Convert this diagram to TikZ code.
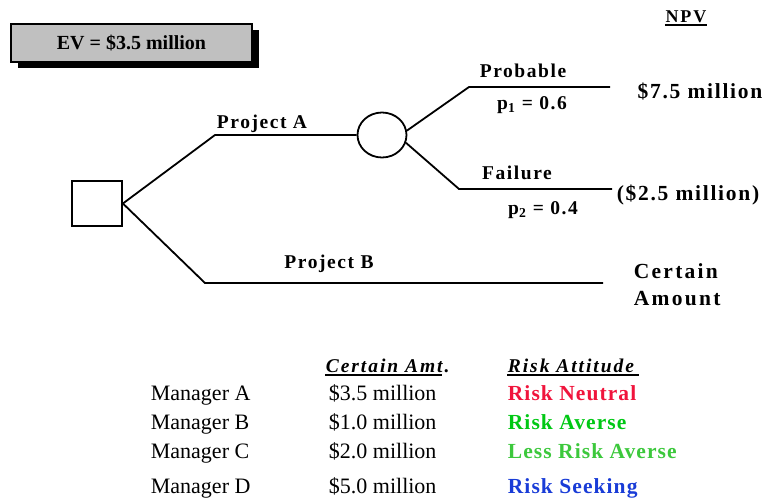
\documentclass[tikz,border=0pt]{standalone}
\usepackage{fontspec}
\setmainfont{Liberation Serif}
\usetikzlibrary{shadows, shapes.geometric}

\definecolor{neutral}{RGB}{240,20,60}
\definecolor{averse}{RGB}{0,200,20}
\definecolor{lessaverse}{RGB}{60,200,60}
\definecolor{seeking}{RGB}{25,60,215}
\definecolor{evgray}{RGB}{192,192,192}

\newcommand{\sz}[1]{\fontsize{#1}{#1}\selectfont}
\newcommand{\trk}[1]{\addfontfeatures{LetterSpace=#1}}

\begin{document}
\begin{tikzpicture}[x=1pt, y=-1pt, line width=1.8pt,
  dec/.style = {draw, rectangle, minimum width=50pt, minimum height=45pt},
  chance/.style = {draw, ellipse, minimum width=49pt, minimum height=45pt},
  lbl/.style = {inner sep=0pt, anchor=base, font=\sz{19.5}\bfseries\trk{8}},
  big/.style = {inner sep=0pt, anchor=base, font=\sz{21.5}\bfseries\trk{8}},
  hdr/.style = {inner sep=0pt, anchor=base west, font=\sz{19.5}\bfseries\itshape\trk{10}},
  row/.style = {inner sep=0pt, anchor=base west, font=\sz{22}},
  att/.style = {inner sep=0pt, anchor=base west, font=\sz{21.5}\bfseries\trk{5}},
  uline/.style = {line width=2pt}]
\useasboundingbox (0,0) rectangle (768,498);

% expected value box
\node[draw, fill=evgray, line width=1.4pt, minimum width=241pt, minimum height=38pt,
  drop shadow={shadow xshift=7pt, shadow yshift=-6pt, fill=black, opacity=1},
  font=\sz{20}\bfseries] (ev) at (131.5,43) {EV = \$3.5 million\hspace{8pt}};

\node[inner sep=0pt, anchor=base, font=\sz{18}\bfseries\trk{10}] (npv) at (686,22) {NPV};
\draw[uline] ([yshift=-3pt]npv.base west) -- ([yshift=-3pt]npv.base east);

% tree
\node[dec] (d) at (97,203.5) {};
\node[chance] (c) at (382,135) {};

\coordinate (a) at (215,135);
\coordinate (b) at (205,283);
\coordinate (bend) at (603,283);
\coordinate (p) at (469,87);
\coordinate (pend) at (610,87);
\coordinate (f) at (459,189);
\coordinate (fend) at (612,189);

\draw (d.east) -- (a) -- (c.west);
\draw (d.east) -- (b) -- (bend);
\draw (c.10) -- (p) -- (pend);
\draw (c.-18) -- (f) -- (fend);

\node[lbl] (pa) at (262,128) {Project A};
\node[lbl] (pb) at (329,268) {Project B};
\node[lbl] (pr) at (523,77) {Probable};
\node[lbl] (p1) at (532,109) {p\textsubscript{1} = 0.6};
\node[lbl] (fa) at (517,179) {Failure};
\node[lbl] (p2) at (543,214) {p\textsubscript{2} = 0.4};

\node[big] (v1) at (700,98) {\$7.5 million};
\node[big] (v2) at (688,200) {(\$2.5 million)};
\node[big, anchor=base west, font=\sz{21.5}\bfseries\trk{10.5}] (ca) at (633,278) {Certain};
\node[big, anchor=base west, font=\sz{21.5}\bfseries\trk{10.5}] (am) at (633,305) {Amount};

% managers
\node[hdr] (h1) at (325,372) {Certain Amt.};
\node[hdr] (h2) at (507,372) {Risk Attitude};
\draw[uline] ([yshift=-3pt]h1.base west) -- ([yshift=-3pt, xshift=-8pt]h1.base east);
\draw[uline] ([yshift=-3pt]h2.base west) -- ([yshift=-3pt, xshift=4pt]h2.base east);

\node[row] (ma) at (150,400) {Manager A};
\node[row] (mb) at (150,429) {Manager B};
\node[row] (mc) at (150,458) {Manager C};
\node[row] (md) at (150,493) {Manager D};

\node[row] (ca1) at (328,400) {\$3.5 million};
\node[row] (ca2) at (328,429) {\$1.0 million};
\node[row] (ca3) at (328,458) {\$2.0 million};
\node[row] (ca4) at (328,493) {\$5.0 million};

\node[att, text=neutral] (ra) at (507,400) {Risk Neutral};
\node[att, text=averse] (rb) at (507,429) {Risk Averse};
\node[att, text=lessaverse] (rc) at (507,458) {Less Risk Averse};
\node[att, text=seeking] (rd) at (507,493) {Risk Seeking};
\end{tikzpicture}
\end{document}
